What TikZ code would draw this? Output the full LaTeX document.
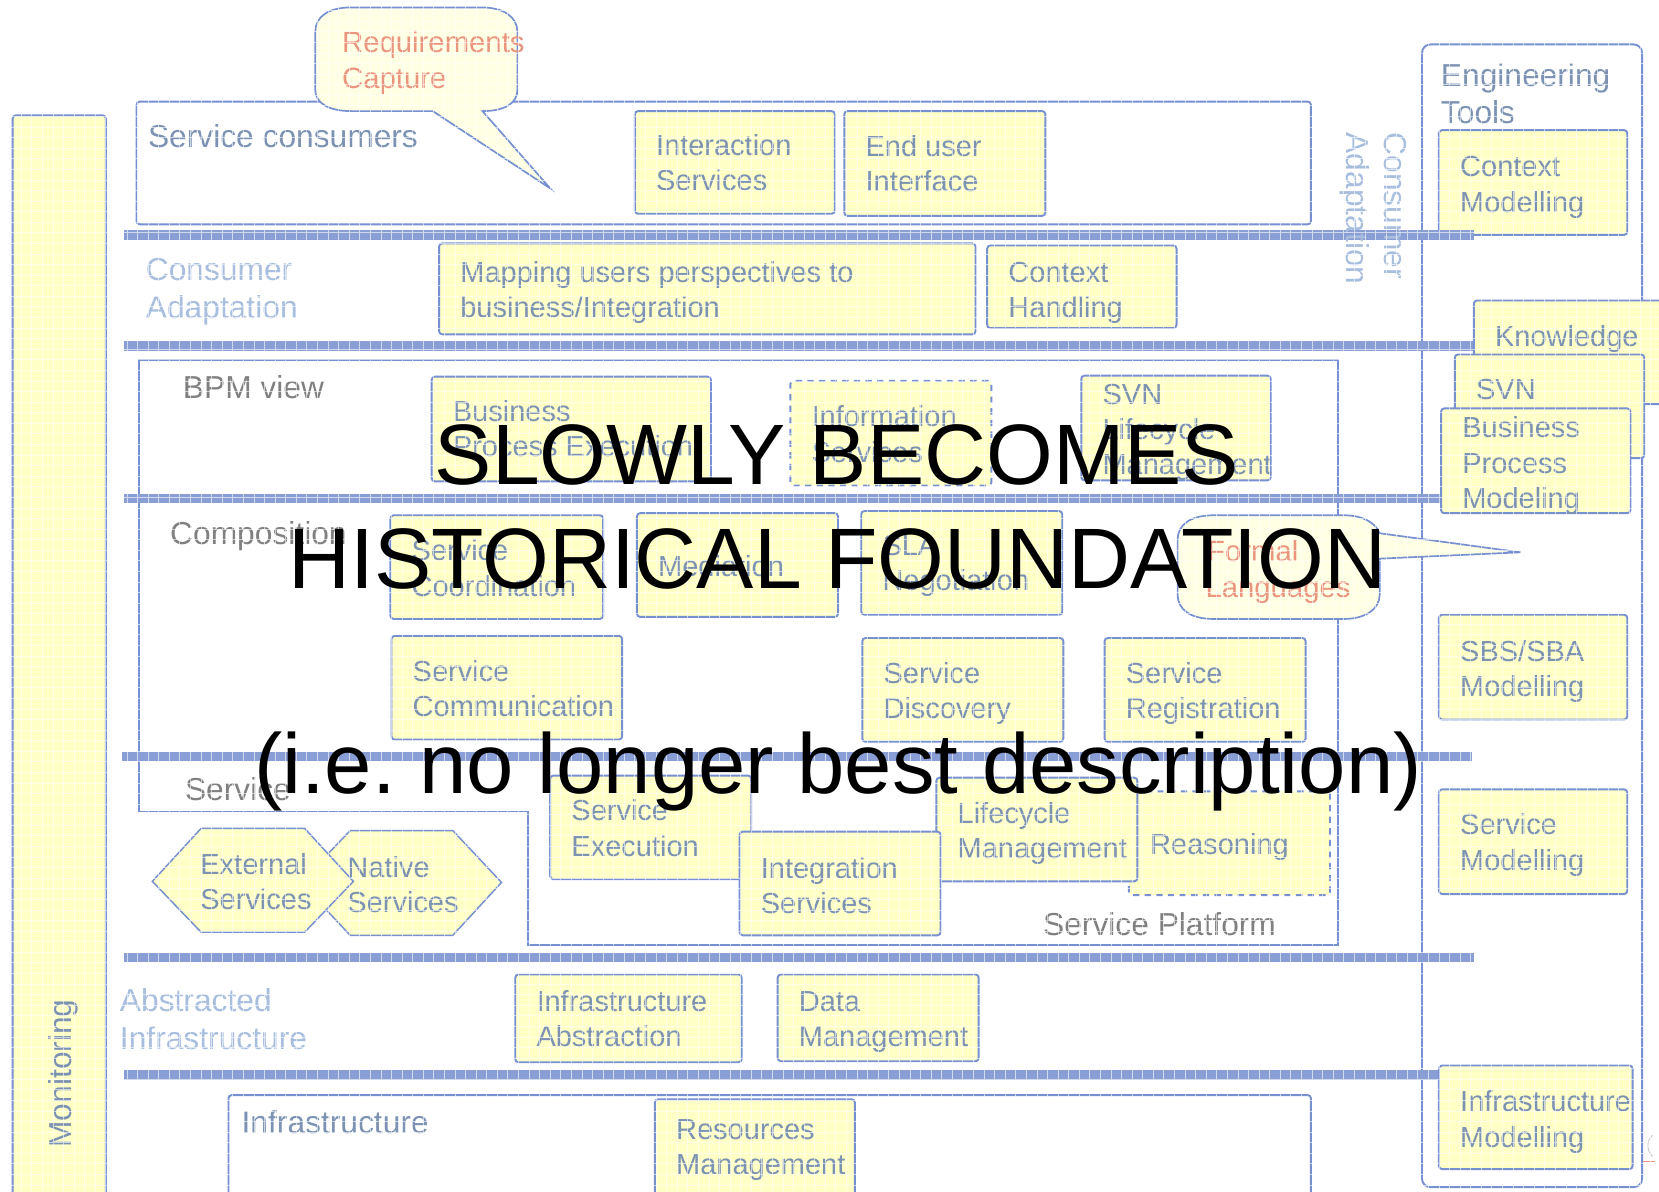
\documentclass[tikz,border=0pt]{standalone}
\usepackage{fontspec}
\setmainfont{Liberation Sans}
\frenchspacing
\definecolor{edgeblue}{HTML}{7690D2}
\definecolor{bandblue}{HTML}{8A9ED6}
\definecolor{boxfill}{HTML}{FFFFC6}
\definecolor{callfill}{HTML}{FFFFE4}
\definecolor{boxtext}{HTML}{7C92B2}
\definecolor{paletext}{HTML}{A8BEDE}
\definecolor{graytext}{HTML}{808080}
\definecolor{redtext}{HTML}{EB957F}
\tikzset{
  x=0.5pt,y=-0.5pt,
  ybox/.style={draw=edgeblue,fill=boxfill,line width=0.9pt,rounded corners=1.5pt,inner sep=0pt,outer sep=0pt,anchor=north west},
  dbox/.style={ybox,dash pattern=on 3pt off 2.5pt},
  frame/.style={draw=edgeblue,line width=0.9pt},
  band/.style={draw=bandblue,line width=4.5pt},
  call/.style={draw=edgeblue,fill=callfill,line width=0.8pt},
  tbox/.style={text=boxtext,font=\fontsize{13.7}{16.75}\selectfont,align=left,anchor=north west,inner sep=0pt},
  thead/.style={tbox,font=\fontsize{15}{17.8}\selectfont},
  tpale/.style={thead,text=paletext},
  tgray/.style={thead,text=graytext},
  tred/.style={tbox,text=redtext,font=\fontsize{13.85}{17}\selectfont},
  tbig/.style={text=black,font=\fontsize{40.55}{48.5}\selectfont,align=center,inner sep=0pt},
}
\newcommand{\ybx}[8][ybox]{%
  \pgfmathsetmacro{\bw}{(#5-#3)*0.5}\pgfmathsetmacro{\bh}{(#6-#4)*0.5}%
  \node[#1,minimum width=\bw pt,minimum height=\bh pt] (#2) at (#3,#4) {};%
  \pgfmathsetmacro{\ty}{#7-12.5}%
  \node[tbox] (#2-t) at ({#3+19.7},\ty) {\rule{0pt}{11pt}#8};%
}
\newcommand{\lbl}[5]{%
  \pgfmathsetmacro{\ty}{#4-13}%
  \node[#1] (#2) at (#3,\ty) {\rule{0pt}{11pt}#5};%
}
\begin{document}
\begin{tikzpicture}
\clip (0,0) rectangle (1568,1125.7);
\fill[white] (0,0) rectangle (1568,1125.7);

% engineering tools frame
\draw[frame,rounded corners=4pt] (1344,42) rectangle (1552,1122);
\lbl{thead}{engt}{1361.5}{72}{Engineering\\Tools}

% monitoring
\node[ybox,minimum width=44pt,minimum height=530pt] (mon) at (12,109) {};
\node[thead,rotate=90,anchor=base west,text=boxtext] (mont) at (68,1085) {Monitoring};

% service consumers
\draw[frame,rounded corners=1.5pt] (129,96) rectangle (1239,212);
\lbl{thead}{sc}{139.5}{130}{Service consumers}

\draw[frame,rounded corners=1.5pt] (216,1035) rectangle (1239,1150);
\lbl{thead}{inf}{228}{1062}{Infrastructure}

% BPM frame
\draw[frame] (131,340) -- (1265,340) -- (1265,893) -- (499,893) -- (499,767) -- (131,767) -- cycle;
\lbl{tgray}{bpm}{172.5}{367}{BPM view}
\lbl{tgray}{comp}{160.5}{505.5}{Composition}
\lbl{tgray}{serv}{174.5}{747}{Service}
\lbl{tgray}{plat}{985.5}{875}{Service Platform}

% bands
\coordinate (b1a) at (117,222); \coordinate (b1b) at (1393,222);
\coordinate (b2a) at (117,327); \coordinate (b2b) at (1393,327);
\coordinate (b3a) at (117,471); \coordinate (b3b) at (1362,471);
\coordinate (b4a) at (115,715); \coordinate (b4b) at (1391,715);
\coordinate (b5a) at (117,905); \coordinate (b5b) at (1393,905);
\coordinate (b6a) at (117,1016); \coordinate (b6b) at (1360,1016);

% right column boxes
\ybx{ctxm}{1360}{123}{1538}{222}{157}{Context\\Modelling}
\foreach \i in {1,...,6} {\draw[band] (b\i a) -- (b\i b);}
\ybx{know}{1393}{284}{1600}{382}{318}{Knowledge}
\ybx{svnr}{1375}{335}{1554}{433}{368}{SVN}
\ybx{bpmo}{1362}{386}{1541}{485}{404}{Business\\Process\\Modeling}
\ybx{sbs}{1360}{581}{1538}{680}{615}{SBS/SBA\\Modelling}
\ybx{sm}{1360}{746}{1538}{845}{779}{Service\\Modelling}
\ybx{im}{1360}{1007}{1543}{1105}{1041}{Infrastructure\\Modelling}

% rotated label
\node[tpale,rotate=270,anchor=north west] (conad) at (1330,125) {Consumer\\Adaptation};

% consumers layer
\ybx{ints}{600}{105}{789}{202}{137}{Interaction\\Services}
\ybx{euif}{798}{105}{988}{204}{138}{End user\\Interface}

% requirements callout
\draw[call] (409,105) -- (520,178) -- (456,105)
  .. controls (478,105) and (489,97) .. (489,85) -- (489,30)
  .. controls (489,16) and (476,7) .. (455,7) -- (332,7)
  .. controls (310,7) and (298,16) .. (298,30) -- (298,85)
  .. controls (298,97) and (310,105) .. (332,105) -- cycle;
\lbl{tred}{req}{323}{40.5}{Requirements\\Capture}

% adaptation layer
\lbl{tpale}{cad}{137.5}{256}{Consumer\\Adaptation}
\ybx{map}{415}{230}{922}{316}{257}{Mapping users perspectives to\\business/Integration}
\ybx{cth}{933}{232}{1112}{310}{257}{Context\\Handling}

% BPM layer
\ybx{bpe}{408}{356}{672}{455}{388.5}{Business\\Process Execution}
\ybx[dbox]{infs}{747}{360}{937}{459}{393.5}{Information\\Services}
\ybx{svnl}{1022}{355}{1201}{454}{372}{SVN\\Lifecycle\\Management}

% composition layer
\ybx{scoo}{369}{487}{570}{585}{520}{Service\\Coordination}
\ybx{med}{602}{485}{792}{583}{535}{Mediation}
\ybx{sla}{814}{483}{1004}{581}{515}{SLA\\Negotiation}
\draw[call] (1304,504) -- (1437,522) -- (1304,528) -- (1304,562)
  .. controls (1304,576) and (1290,585) .. (1270,585) -- (1147,585)
  .. controls (1125,585) and (1113,576) .. (1113,562) -- (1113,510)
  .. controls (1113,496) and (1125,487) .. (1147,487) -- (1270,487)
  .. controls (1288,487) and (1300,494) .. (1304,504) -- cycle;
\node[tred,anchor=north] (fl1) at (1184,508) {\rule{0pt}{11pt}Formal};
\node[tred,anchor=north west] (fl2) at (1139,542) {\rule{0pt}{11pt}Languages};
\ybx{scom}{370}{601}{588}{699}{634}{Service\\Communication}
\ybx{sdis}{815}{603}{1005}{701}{636}{Service\\Discovery}
\ybx{sreg}{1044}{603}{1234}{701}{636}{Service\\Registration}

% service layer
\ybx{sexe}{520}{733}{710}{831}{766}{Service\\Execution}
\ybx[dbox]{reas}{1067}{748}{1257}{846}{798}{Reasoning}
\ybx{lcm}{885}{735}{1075}{833}{768}{Lifecycle\\Management}
\ybx{intg}{699}{786}{889}{884}{820}{Integration\\Services}

\draw[ybox,line width=0.7pt,rounded corners=0pt] (284,834) -- (331,785) -- (428,785) -- (474,834) -- (428,884) -- (331,884) -- cycle;
\draw[ybox,line width=0.7pt,rounded corners=0pt] (144,833) -- (190,783) -- (288,783) -- (334,833) -- (288,881) -- (190,881) -- cycle;
\lbl{tbox}{exts}{189}{817}{External\\Services}
\lbl{tbox}{nats}{328}{820}{Native\\Services}

% infrastructure
\ybx{ifab}{487}{921}{701}{1004}{946}{Infrastructure\\Abstraction}
\ybx{dman}{735}{921}{925}{1003}{946}{Data\\Management}
\lbl{tpale}{abi}{113}{947}{Abstracted\\Infrastructure}
\ybx{rman}{619}{1039}{808}{1140}{1067}{Resources\\Management}

% small marks at the lower right edge
\draw[gray!45,line width=0.4pt] (1562,1073) .. controls (1556,1078) and (1556,1088) .. (1562,1093);
\draw[redtext,line width=0.5pt] (1553,1098) -- (1564,1098);

% fine white screen of the scan
\draw[white,opacity=0.6,line width=0.35pt,xstep=5pt,ystep=5pt] (0,0) grid (1568,1130);

% overlay
\node[tbig,anchor=base] (big1) at (791,458) {SLOWLY BECOMES};
\node[tbig,anchor=base] (big2) at (791.5,556) {HISTORICAL FOUNDATION};
\node[tbig,anchor=base,font=\fontsize{40.2}{48.5}\selectfont] (big3) at (792,750) {(i.e. no longer best description)};
\end{tikzpicture}
\end{document}
